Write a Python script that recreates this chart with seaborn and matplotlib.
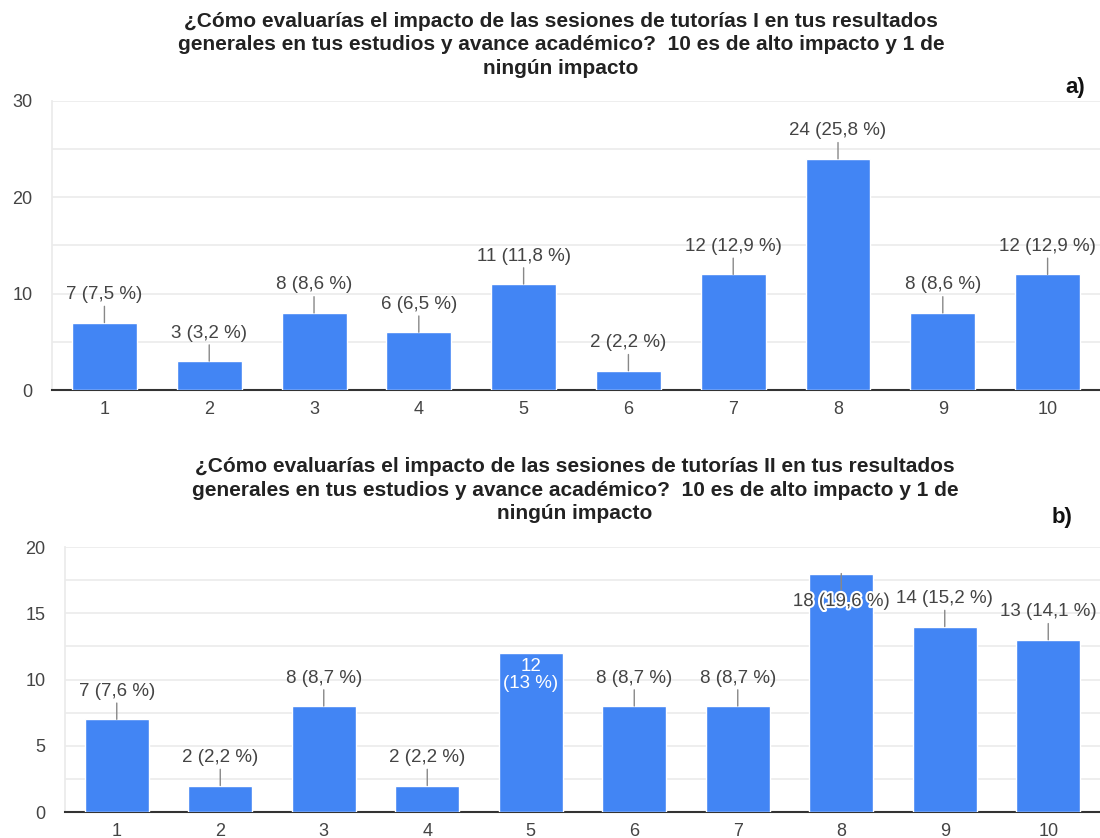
import seaborn as sns
import matplotlib.pyplot as plt
import matplotlib.patheffects as pe
from matplotlib.ticker import MultipleLocator

categories = ["1", "2", "3", "4", "5", "6", "7", "8", "9", "10"]

counts_a = [7, 3, 8, 6, 11, 2, 12, 24, 8, 12]
pct_a = ["7,5", "3,2", "8,6", "6,5", "11,8", "2,2", "12,9", "25,8", "8,6", "12,9"]

counts_b = [7, 2, 8, 2, 12, 8, 8, 18, 14, 13]
pct_b = ["7,6", "2,2", "8,7", "2,2", "13", "8,7", "8,7", "19,6", "15,2", "14,1"]

title_a = ("¿Cómo evaluarías el impacto de las sesiones de tutorías I en tus resultados\n"
           "generales en tus estudios y avance académico?  10 es de alto impacto y 1 de\n"
           "ningún impacto")
title_b = ("¿Cómo evaluarías el impacto de las sesiones de tutorías II en tus resultados\n"
           "generales en tus estudios y avance académico?  10 es de alto impacto y 1 de\n"
           "ningún impacto")

sns.set_theme(style="white")
plt.rcParams['font.family'] = ['Liberation Sans', 'DejaVu Sans']

BAR = '#4285F4'
TXT = '#444444'
GRID = '#ebebeb'
FS = 13.5

fig = plt.figure(figsize=(11, 8.38), dpi=100)
ax_a = fig.add_axes([0.0473, 0.5346, 0.9527, 0.3449])
ax_b = fig.add_axes([0.0591, 0.0310, 0.9409, 0.3162])


def panel(ax, counts, pcts, ymax, major, minor, inside=()):
    sns.barplot(x=categories, y=counts, color=BAR, saturation=1, width=0.62, ax=ax, zorder=3)
    ax.set_ylim(0, ymax)
    ax.set_xlim(-0.5, 9.5)
    ax.yaxis.set_major_locator(MultipleLocator(major))
    ax.yaxis.set_minor_locator(MultipleLocator(minor))
    ax.grid(True, which='both', axis='y', color=GRID, lw=1.2, zorder=0)
    ax.set_axisbelow(True)
    for s in ['top', 'right']:
        ax.spines[s].set_visible(False)
    ax.spines['left'].set_color(GRID)
    ax.spines['bottom'].set_color('#333333')
    ax.spines['bottom'].set_linewidth(1.5)
    ax.tick_params(length=0, labelsize=13, colors=TXT)
    ax.tick_params(axis='y', pad=14)
    ax.tick_params(axis='x', pad=8)
    ax.set_xlabel('')
    ax.set_ylabel('')

    for i, (c, p) in enumerate(zip(counts, pcts)):
        if i in inside and c < 15:
            # label written inside the bar in white
            ax.annotate(f"{c}\n({p} %)", xy=(i, c), xytext=(0, -22),
                        textcoords='offset pixels', ha='center', va='center',
                        color='white', fontsize=FS, linespacing=1.05, zorder=5)
        elif i in inside:
            ax.annotate(f"{c} ({p} %)", xy=(i, c), xytext=(0, -28),
                        textcoords='offset pixels', ha='center', va='center',
                        color=TXT, fontsize=FS, zorder=5,
                        path_effects=[pe.withStroke(linewidth=3, foreground='white')],
                        arrowprops=dict(arrowstyle='-', color='#888888', lw=1,
                                        shrinkA=0, shrinkB=0))
        else:
            ax.annotate(f"{c} ({p} %)", xy=(i, c), xytext=(0, 28),
                        textcoords='offset pixels', ha='center', va='center',
                        color=TXT, fontsize=FS, zorder=5,
                        arrowprops=dict(arrowstyle='-', color='#888888', lw=1,
                                        shrinkA=0, shrinkB=0))


panel(ax_a, counts_a, pct_a, 30, 10, 5)
panel(ax_b, counts_b, pct_b, 20, 5, 2.5, inside=(4, 7))

fig.text(561 / 1100, 1 - 45 / 838, title_a, ha='center', va='center', fontsize=15,
         fontweight='bold', linespacing=1.33, color='#222222')
fig.text(575 / 1100, 1 - 490 / 838, title_b, ha='center', va='center', fontsize=15,
         fontweight='bold', linespacing=1.33, color='#222222')
fig.text(1075 / 1100, 1 - 87 / 838, "a)", ha='center', va='center', fontsize=16,
         fontweight='bold', color='#111111')
fig.text(1062 / 1100, 1 - 517 / 838, "b)", ha='center', va='center', fontsize=16,
         fontweight='bold', color='#111111')

fig.savefig('out.png', dpi=100)
